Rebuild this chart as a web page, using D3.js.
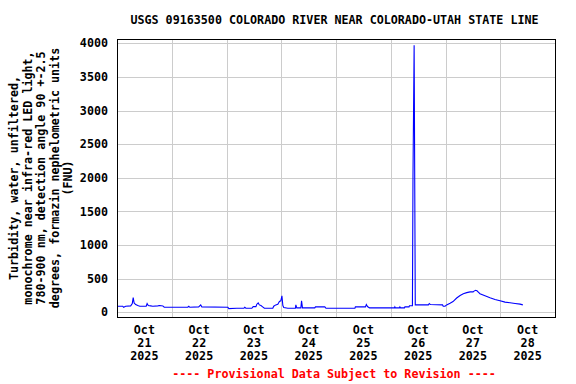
<!DOCTYPE html>
<html>
<head>
<meta charset="utf-8">
<script src="https://cdn.jsdelivr.net/npm/d3@7"></script>
<style>
  body { margin: 0; background: #fff; }
  text { font-family: "DejaVu Sans Mono", monospace; font-weight: bold; }
</style>
</head>
<body>
<svg id="chart"></svg>
<script>
// hours since Oct 21 2025 00:00 and turbidity (FNU)
const timeHours = [
  0, 2.5, 2.9, 3.8, 6.0, 6.7, 7.1, 7.5, 8.2, 9.1, 10.0, 12.8, 13.2, 13.7, 14.8, 15.7,
  17.9, 18.7, 20.1, 20.7, 31.0, 31.5, 31.9, 35.8, 36.7, 37.2, 48.6, 49.0,
  52.5, 55.6, 56.0, 56.5, 59.1, 59.7, 60.9, 61.3, 61.9, 62.4, 63.1, 63.7, 64.6,
  68.3, 68.7, 69.6, 70.5, 71.2, 71.8, 72.3, 72.7, 73.1, 74.9, 78.2, 78.4, 78.8,
  80.6, 80.9, 81.3, 86.7, 87.0, 91.1, 91.6,
  99.9, 104.3, 104.5, 108.9, 109.3, 109.8, 110.7, 121.6, 121.8, 122.0, 123.8, 124.0,
  124.3, 126.0, 126.2, 128.0, 128.2, 129.5, 129.75, 130.25, 130.75,
  136.5, 136.9, 137.4, 142.7, 143.0, 143.8, 144.5,
  146.0, 147.3, 148.9, 150.4, 151.8, 153.3, 154.8, 156.1, 156.5, 157.2, 157.8, 158.5,
  159.1, 161.3, 163.5, 165.7, 167.9, 170.1, 172.3, 174.5, 176.7, 177.9
];
const turbidity = [
  90, 90, 75, 90, 95, 130, 220, 140, 115, 100, 90, 90, 130, 100, 95, 90,
  95, 100, 95, 75, 75, 90, 75, 80, 110, 80, 75, 55,
  60, 60, 75, 60, 60, 85, 85, 120, 140, 110, 100, 85, 60,
  60, 90, 110, 120, 160, 170, 245, 100, 70, 60, 60, 110, 65,
  65, 170, 65, 65, 80, 80, 60,
  60, 60, 80, 80, 115, 85, 65, 65, 80, 65, 65, 80,
  65, 65, 80, 80, 98, 98, 2050, 3970, 110,
  110, 130, 115, 110, 90, 90, 110,
  136, 160, 212, 250, 277, 292, 303, 303, 315, 327, 320, 297,
  277, 247, 217, 191, 171, 151, 141, 131, 121, 110
];

const yTicks = [0, 500, 1000, 1500, 2000, 2500, 3000, 3500, 4000];
const dayLabels = ["21", "22", "23", "24", "25", "26", "27", "28"];
const titleText = "USGS 09163500 COLORADO RIVER NEAR COLORADO-UTAH STATE LINE";
const yTitleLines = [
  "Turbidity, water, unfiltered,",
  "monochrome near infra-red LED light,",
  "780-900 nm, detection angle 90 +-2.5",
  "degrees, formazin nephelometric units",
  "(FNU)"
];
const footText = "---- Provisional Data Subject to Revision ----";

const svgWidth = 576, svgHeight = 384;
const plotLeft = 117, plotRight = 555, plotTop = 39, plotBottom = 317;
const fontSize = "11.7px";
const start = Date.UTC(2025, 9, 21);

const data = timeHours.map((h, i) => ({ date: new Date(start + h * 3600e3), value: turbidity[i] }));

const svg = d3.select("#chart").attr("width", svgWidth).attr("height", svgHeight);

const x = d3.scaleUtc()
  .domain([new Date(start), new Date(start + 8 * 864e5)])
  .range([plotLeft, plotRight]);
const y = d3.scaleLinear()
  .domain([-70, 4064])
  .range([plotBottom, plotTop]);

// grid
const days = d3.utcDay.range(new Date(start + 864e5), new Date(start + 8 * 864e5));
svg.append("g").selectAll("line").data(days).join("line")
  .attr("x1", d => Math.round(x(d)) + 0.5).attr("x2", d => Math.round(x(d)) + 0.5)
  .attr("y1", plotTop).attr("y2", plotBottom)
  .attr("stroke", "#cccccc");
svg.append("g").selectAll("line").data(yTicks).join("line")
  .attr("x1", plotLeft).attr("x2", plotRight)
  .attr("y1", d => Math.round(y(d)) + 0.5).attr("y2", d => Math.round(y(d)) + 0.5)
  .attr("stroke", "#cccccc");

// the series
const line = d3.line().x(d => x(d.date)).y(d => y(d.value));
svg.append("path")
  .datum(data)
  .attr("fill", "none")
  .attr("stroke", "#0000ff")
  .attr("stroke-width", 1.1)
  .attr("d", line);

// frame
svg.append("rect")
  .attr("x", plotLeft + 0.5).attr("y", plotTop + 0.5)
  .attr("width", plotRight - plotLeft).attr("height", plotBottom - plotTop)
  .attr("fill", "none").attr("stroke", "#000").attr("stroke-width", 1);

// y tick labels
svg.append("g").selectAll("text").data(yTicks).join("text")
  .attr("x", plotLeft - 9).attr("y", d => y(d)).attr("dy", "0.35em")
  .attr("text-anchor", "end").style("font-size", fontSize)
  .text(d => d);

// x labels at noon
const xl = svg.append("g").selectAll("text").data(dayLabels).join("text")
  .attr("text-anchor", "middle").style("font-size", fontSize)
  .attr("transform", (d, i) => `translate(${x(new Date(start + i * 864e5 + 12 * 3600e3))},334)`);
xl.append("tspan").attr("x", 0).attr("y", 0).text("Oct");
xl.append("tspan").attr("x", 0).attr("y", 12.8).text(d => d);
xl.append("tspan").attr("x", 0).attr("y", 25.6).text("2025");

// title
svg.append("text")
  .attr("x", (plotLeft + plotRight) / 2 - 1.5).attr("y", 24)
  .attr("text-anchor", "middle").style("font-size", fontSize)
  .text(titleText);

// y axis title
svg.append("g").selectAll("text").data(yTitleLines).join("text")
  .attr("transform", (d, i) => `translate(${14 + i * 13.5},${(plotTop + plotBottom) / 2}) rotate(-90)`)
  .attr("dy", "0.35em").attr("text-anchor", "middle").style("font-size", fontSize)
  .text(d => d);

// provisional note
svg.append("text")
  .attr("x", 334).attr("y", 378)
  .attr("text-anchor", "middle").style("font-size", fontSize)
  .attr("fill", "#ff0000")
  .text(footText);
</script>
</body>
</html>
